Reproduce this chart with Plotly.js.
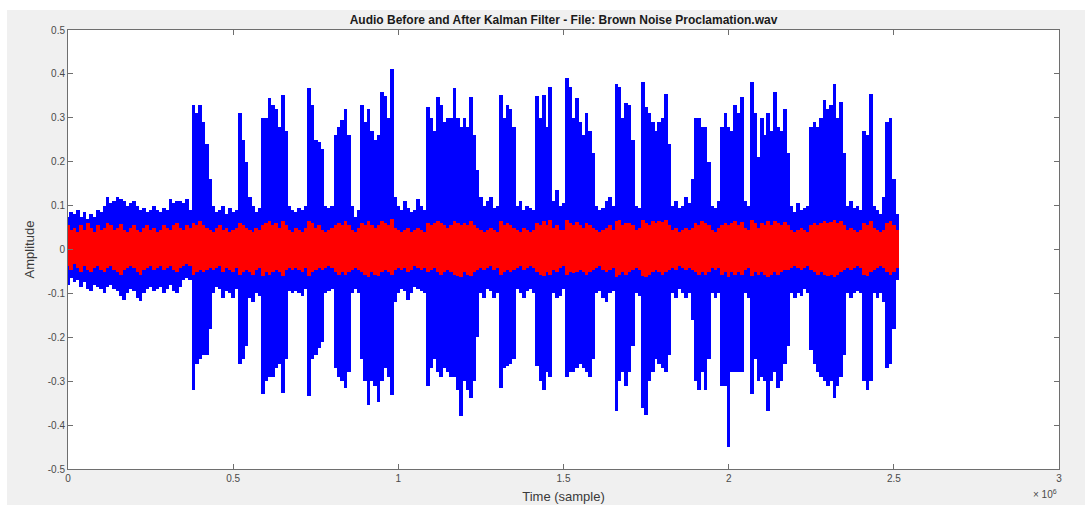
<!DOCTYPE html>
<html>
<head>
<meta charset="utf-8">
<script src="https://cdn.plot.ly/plotly-3.0.1.min.js"></script>
<style>
  html, body { margin: 0; padding: 0; background: #ffffff; width: 1085px; height: 505px; overflow: hidden; }
  #chart { position: absolute; left: 7px; top: 10px; width: 1078px; height: 495px; }
</style>
</head>
<body>
<div id="chart"></div>
<script>
// Envelope of the audio, one value per block of SAMPLE_STEP samples
const SAMPLE_STEP = 10000;

const originalMax = [
  0.075,0.085,0.08,0.09,0.075,0.085,0.07,0.08,0.075,0.09,
  0.085,0.1,0.12,0.105,0.11,0.12,0.115,0.11,0.1,0.105,
  0.11,0.1,0.09,0.095,0.085,0.09,0.1,0.09,0.085,0.095,
  0.09,0.115,0.105,0.11,0.11,0.105,0.115,0.09,0.33,0.31,
  0.33,0.29,0.24,0.16,0.1,0.085,0.09,0.1,0.08,0.095,
  0.085,0.09,0.31,0.25,0.2,0.12,0.1,0.085,0.095,0.3,
  0.3,0.344,0.33,0.32,0.28,0.352,0.27,0.1,0.09,0.085,
  0.095,0.09,0.1,0.367,0.33,0.25,0.245,0.23,0.1,0.095,
  0.1,0.26,0.28,0.295,0.32,0.26,0.1,0.075,0.09,0.33,
  0.29,0.32,0.27,0.25,0.26,0.359,0.35,0.3,0.412,0.12,
  0.1,0.09,0.11,0.095,0.085,0.09,0.115,0.1,0.09,0.325,
  0.3,0.27,0.348,0.33,0.29,0.3,0.3,0.367,0.3,0.28,
  0.3,0.28,0.348,0.26,0.18,0.12,0.1,0.11,0.12,0.095,
  0.1,0.352,0.3,0.33,0.32,0.28,0.1,0.11,0.09,0.1,
  0.095,0.09,0.35,0.3,0.352,0.28,0.37,0.11,0.135,0.1,
  0.105,0.39,0.37,0.3,0.345,0.29,0.26,0.31,0.27,0.22,
  0.1,0.09,0.095,0.11,0.12,0.1,0.378,0.37,0.3,0.333,
  0.33,0.25,0.1,0.095,0.382,0.325,0.31,0.29,0.27,0.29,
  0.3,0.355,0.24,0.1,0.11,0.095,0.1,0.12,0.105,0.16,
  0.3,0.3,0.28,0.28,0.2,0.1,0.095,0.11,0.28,0.31,
  0.28,0.27,0.33,0.31,0.348,0.11,0.1,0.382,0.31,0.21,
  0.3,0.26,0.31,0.27,0.359,0.28,0.27,0.32,0.22,0.1,
  0.085,0.105,0.09,0.095,0.1,0.28,0.29,0.28,0.3,0.34,
  0.32,0.33,0.378,0.3,0.335,0.22,0.1,0.11,0.095,0.1,
  0.09,0.27,0.26,0.355,0.1,0.09,0.08,0.12,0.29,0.3,
  0.16,0.08
];

const originalMin = [
  -0.08,-0.065,-0.075,-0.07,-0.085,-0.075,-0.09,-0.095,-0.08,-0.085,
  -0.09,-0.1,-0.085,-0.08,-0.09,-0.095,-0.105,-0.115,-0.1,-0.09,
  -0.095,-0.11,-0.117,-0.1,-0.09,-0.085,-0.095,-0.09,-0.085,-0.1,
  -0.09,-0.08,-0.095,-0.1,-0.085,-0.07,-0.065,-0.07,-0.32,-0.26,
  -0.25,-0.24,-0.24,-0.18,-0.1,-0.085,-0.09,-0.11,-0.095,-0.1,
  -0.11,-0.09,-0.26,-0.25,-0.22,-0.11,-0.12,-0.1,-0.105,-0.33,
  -0.3,-0.29,-0.29,-0.27,-0.26,-0.326,-0.25,-0.095,-0.1,-0.095,
  -0.1,-0.105,-0.09,-0.333,-0.25,-0.24,-0.225,-0.21,-0.1,-0.095,
  -0.09,-0.27,-0.29,-0.3,-0.316,-0.28,-0.1,-0.09,-0.1,-0.25,
  -0.3,-0.354,-0.3,-0.31,-0.347,-0.3,-0.27,-0.29,-0.331,-0.12,
  -0.1,-0.09,-0.095,-0.115,-0.1,-0.085,-0.09,-0.095,-0.1,-0.31,
  -0.27,-0.25,-0.28,-0.29,-0.27,-0.28,-0.29,-0.29,-0.32,-0.38,
  -0.3,-0.32,-0.338,-0.3,-0.2,-0.1,-0.11,-0.09,-0.095,-0.11,
  -0.1,-0.316,-0.27,-0.265,-0.26,-0.25,-0.09,-0.1,-0.11,-0.095,
  -0.09,-0.1,-0.265,-0.3,-0.32,-0.28,-0.29,-0.1,-0.11,-0.105,
  -0.09,-0.29,-0.28,-0.28,-0.27,-0.26,-0.27,-0.28,-0.29,-0.25,
  -0.1,-0.095,-0.11,-0.12,-0.1,-0.095,-0.369,-0.3,-0.28,-0.31,
  -0.28,-0.22,-0.1,-0.105,-0.36,-0.377,-0.3,-0.28,-0.25,-0.26,
  -0.27,-0.28,-0.24,-0.1,-0.11,-0.09,-0.1,-0.11,-0.1,-0.16,
  -0.3,-0.32,-0.28,-0.32,-0.25,-0.1,-0.11,-0.1,-0.31,-0.31,
  -0.449,-0.28,-0.28,-0.28,-0.28,-0.1,-0.11,-0.33,-0.25,-0.3,
  -0.29,-0.3,-0.369,-0.3,-0.28,-0.316,-0.3,-0.26,-0.22,-0.1,
  -0.11,-0.1,-0.105,-0.09,-0.1,-0.23,-0.26,-0.28,-0.29,-0.3,
  -0.31,-0.3,-0.338,-0.31,-0.29,-0.24,-0.1,-0.11,-0.1,-0.095,
  -0.1,-0.3,-0.32,-0.3,-0.1,-0.11,-0.1,-0.12,-0.27,-0.26,
  -0.18,-0.07
];

const filteredMax = [
  0.055,0.045,0.05,0.04,0.055,0.045,0.06,0.05,0.04,0.055,
  0.045,0.05,0.06,0.055,0.045,0.05,0.058,0.045,0.04,0.05,
  0.055,0.045,0.04,0.05,0.055,0.045,0.05,0.04,0.045,0.055,
  0.05,0.045,0.055,0.06,0.05,0.045,0.055,0.05,0.06,0.055,
  0.065,0.055,0.05,0.045,0.04,0.05,0.055,0.045,0.05,0.04,
  0.045,0.05,0.06,0.055,0.05,0.045,0.04,0.05,0.045,0.055,
  0.06,0.065,0.055,0.06,0.05,0.065,0.055,0.045,0.04,0.05,
  0.045,0.04,0.05,0.065,0.06,0.05,0.055,0.045,0.04,0.045,
  0.05,0.055,0.06,0.055,0.065,0.055,0.045,0.04,0.05,0.06,
  0.055,0.065,0.055,0.05,0.055,0.065,0.06,0.055,0.07,0.05,
  0.045,0.04,0.045,0.05,0.04,0.045,0.05,0.045,0.04,0.06,
  0.055,0.06,0.065,0.06,0.055,0.05,0.055,0.065,0.06,0.055,
  0.06,0.055,0.065,0.055,0.05,0.045,0.04,0.045,0.05,0.045,
  0.04,0.065,0.055,0.06,0.055,0.05,0.045,0.04,0.05,0.045,
  0.04,0.045,0.06,0.055,0.065,0.055,0.067,0.05,0.055,0.045,
  0.045,0.067,0.06,0.055,0.063,0.055,0.05,0.06,0.055,0.05,
  0.045,0.04,0.045,0.05,0.055,0.045,0.065,0.067,0.055,0.06,
  0.06,0.055,0.045,0.05,0.067,0.06,0.055,0.065,0.06,0.065,
  0.063,0.067,0.055,0.045,0.05,0.04,0.045,0.05,0.045,0.05,
  0.06,0.055,0.065,0.06,0.055,0.045,0.04,0.05,0.055,0.06,
  0.055,0.06,0.065,0.055,0.063,0.05,0.045,0.067,0.06,0.05,
  0.06,0.055,0.065,0.055,0.065,0.06,0.055,0.063,0.055,0.045,
  0.04,0.045,0.05,0.045,0.04,0.055,0.06,0.055,0.06,0.065,
  0.06,0.063,0.067,0.06,0.065,0.055,0.045,0.05,0.045,0.04,
  0.045,0.06,0.055,0.065,0.05,0.045,0.04,0.045,0.06,0.065,
  0.055,0.045
];

const filteredMin = [
  -0.037,-0.047,-0.032,-0.042,-0.052,-0.037,-0.047,-0.052,-0.042,-0.037,
  -0.047,-0.052,-0.042,-0.037,-0.047,-0.052,-0.057,-0.047,-0.042,-0.037,
  -0.042,-0.052,-0.057,-0.047,-0.042,-0.037,-0.047,-0.042,-0.037,-0.047,
  -0.042,-0.037,-0.047,-0.052,-0.042,-0.037,-0.032,-0.037,-0.057,-0.052,
  -0.047,-0.052,-0.047,-0.042,-0.047,-0.042,-0.037,-0.052,-0.042,-0.047,
  -0.052,-0.042,-0.057,-0.052,-0.047,-0.052,-0.057,-0.047,-0.042,-0.06,
  -0.052,-0.057,-0.052,-0.047,-0.052,-0.06,-0.047,-0.042,-0.047,-0.042,
  -0.047,-0.052,-0.042,-0.06,-0.052,-0.047,-0.042,-0.047,-0.042,-0.037,
  -0.042,-0.052,-0.057,-0.052,-0.057,-0.052,-0.047,-0.042,-0.047,-0.052,
  -0.057,-0.062,-0.052,-0.057,-0.06,-0.052,-0.047,-0.052,-0.057,-0.047,
  -0.042,-0.047,-0.042,-0.052,-0.047,-0.037,-0.042,-0.047,-0.042,-0.052,
  -0.047,-0.042,-0.052,-0.057,-0.052,-0.047,-0.052,-0.057,-0.06,-0.062,
  -0.052,-0.057,-0.06,-0.052,-0.047,-0.042,-0.047,-0.042,-0.037,-0.047,
  -0.042,-0.057,-0.052,-0.047,-0.052,-0.047,-0.042,-0.037,-0.047,-0.042,
  -0.037,-0.042,-0.052,-0.057,-0.06,-0.052,-0.057,-0.047,-0.052,-0.042,
  -0.037,-0.057,-0.052,-0.054,-0.052,-0.047,-0.052,-0.057,-0.052,-0.047,
  -0.042,-0.037,-0.047,-0.052,-0.047,-0.042,-0.062,-0.057,-0.052,-0.057,
  -0.052,-0.047,-0.042,-0.047,-0.06,-0.062,-0.057,-0.052,-0.047,-0.052,
  -0.057,-0.052,-0.047,-0.042,-0.047,-0.037,-0.042,-0.047,-0.042,-0.047,
  -0.052,-0.057,-0.052,-0.057,-0.052,-0.042,-0.047,-0.042,-0.057,-0.052,
  -0.062,-0.052,-0.057,-0.052,-0.057,-0.047,-0.042,-0.06,-0.052,-0.057,
  -0.052,-0.057,-0.062,-0.057,-0.052,-0.057,-0.052,-0.047,-0.047,-0.042,
  -0.037,-0.042,-0.047,-0.042,-0.037,-0.047,-0.052,-0.057,-0.052,-0.057,
  -0.06,-0.057,-0.062,-0.057,-0.052,-0.047,-0.042,-0.047,-0.042,-0.037,
  -0.042,-0.057,-0.06,-0.052,-0.047,-0.042,-0.037,-0.042,-0.052,-0.057,
  -0.052,-0.042
];

const xTickVals = [0, 500000, 1000000, 1500000, 2000000, 2500000, 3000000];
const xTickText = ['0', '0.5', '1', '1.5', '2', '2.5', '3'];
const yTickVals = [-0.5, -0.4, -0.3, -0.2, -0.1, 0, 0.1, 0.2, 0.3, 0.4, 0.5];
const yTickText = ['-0.5', '-0.4', '-0.3', '-0.2', '-0.1', '0', '0.1', '0.2', '0.3', '0.4', '0.5'];

const samples = originalMax.map((_, i) => i * SAMPLE_STEP);

function envelopeTrace(maxArr, minArr, color, name) {
  return {
    type: 'bar',
    name: name,
    x: samples,
    base: minArr,
    y: maxArr.map((v, i) => v - minArr[i]),
    width: SAMPLE_STEP * 1.1,
    marker: { color: color, line: { width: 0 } },
    hoverinfo: 'skip'
  };
}

const data = [
  envelopeTrace(originalMax, originalMin, '#0000ff', 'Original'),
  envelopeTrace(filteredMax, filteredMin, '#ff0000', 'Filtered')
];

const axisColor = '#6e6e6e';
const tickFont = { family: 'Liberation Sans, Arial, sans-serif', size: 10, color: '#4a4a4a' };

const layout = {
  width: 1078,
  height: 495,
  paper_bgcolor: '#f0f0f0',
  plot_bgcolor: '#ffffff',
  margin: { l: 61, r: 26, t: 20, b: 36, pad: 0 },
  showlegend: false,
  barmode: 'overlay',
  bargap: 0,
  title: {
    text: 'Audio Before and After Kalman Filter - File: Brown Noise Proclamation.wav',
    font: { family: 'Liberation Sans, Arial, sans-serif', size: 12, color: '#1a1a1a', weight: 'bold' },
    x: 0.5, xref: 'paper', xanchor: 'center',
    y: 0.98, yref: 'container', yanchor: 'middle'
  },
  xaxis: {
    range: [0, 3000000],
    tickvals: xTickVals,
    ticktext: xTickText,
    ticks: 'inside',
    ticklen: 5,
    tickcolor: axisColor,
    showline: true,
    linecolor: axisColor,
    linewidth: 1,
    mirror: 'ticks',
    showgrid: false,
    zeroline: false,
    tickfont: tickFont,
    automargin: false,
    title: {
      text: 'Time (sample)',
      font: { family: 'Liberation Sans, Arial, sans-serif', size: 13, color: '#3a3a3a' },
      standoff: 8
    }
  },
  yaxis: {
    range: [-0.5, 0.5],
    tickvals: yTickVals,
    ticktext: yTickText,
    ticks: 'inside',
    ticklen: 5,
    tickcolor: axisColor,
    showline: true,
    linecolor: axisColor,
    linewidth: 1,
    mirror: 'ticks',
    showgrid: false,
    zeroline: false,
    tickfont: tickFont,
    automargin: false,
    title: {
      text: 'Amplitude',
      font: { family: 'Liberation Sans, Arial, sans-serif', size: 13, color: '#3a3a3a' },
      standoff: 10
    }
  },
  annotations: [
    {
      text: '× 10<sup>6</sup>',
      xref: 'paper', yref: 'paper',
      x: 1, y: -0.056,
      xanchor: 'right', yanchor: 'middle',
      showarrow: false,
      font: { family: 'Liberation Sans, Arial, sans-serif', size: 10, color: '#4a4a4a' }
    }
  ]
};

Plotly.newPlot('chart', data, layout, { displayModeBar: false, staticPlot: true });
</script>
</body>
</html>
